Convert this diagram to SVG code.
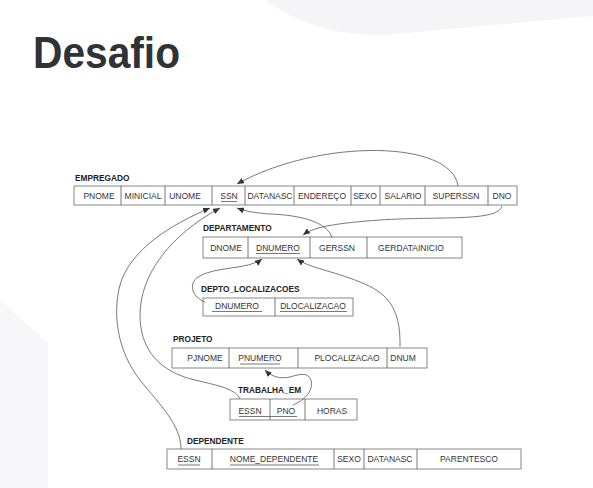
<svg xmlns="http://www.w3.org/2000/svg" width="593" height="488" viewBox="0 0 593 488">
<style>
.cell{fill:#fff;stroke:#6a6a6a;stroke-width:0.8}
.t{font-family:"Liberation Sans",Arial,sans-serif;font-size:8.5px;fill:#333;text-anchor:middle}
.lbl{font-family:"Liberation Sans",Arial,sans-serif;font-size:8.3px;font-weight:bold;fill:#222}
.ul{stroke:#555;stroke-width:0.8}
.c{fill:none;stroke:#555;stroke-width:0.8}
</style>
<defs>
<marker id="ah" markerUnits="userSpaceOnUse" markerWidth="8" markerHeight="6" refX="7" refY="3" orient="auto">
<path d="M0,0 L7,3 L0,6 Z" fill="#333"/>
</marker>
</defs>
<rect width="593" height="488" fill="#fff"/>
<path d="M265,0 C300,24 335,36 385,35 L593,16 L593,0 Z" fill="#f5f5f7"/>
<path d="M0,300 L48,343 L48,488 L0,488 Z" fill="#f7f7f9"/>
<text x="33" y="68" font-family="'Liberation Sans',Arial,sans-serif" font-size="44" font-weight="bold" fill="#2f3337" textLength="147" lengthAdjust="spacingAndGlyphs">Desafio</text>

<g id="empregado">
<text class="lbl" x="75" y="181">EMPREGADO</text>
<rect class="cell" x="74" y="186" width="443" height="19"/>
<path class="ul" d="M121,186V205M165,186V205M212,186V205M245,186V205M294,186V205M351,186V205M380,186V205M425,186V205M488,186V205"/>
<text class="t" x="99" y="199">PNOME</text>
<text class="t" x="143" y="199">MINICIAL</text>
<text class="t" x="185" y="199">UNOME</text>
<text class="t" x="229" y="199">SSN</text>
<text class="t" x="270" y="199">DATANASC</text>
<text class="t" x="322" y="199">ENDEREÇO</text>
<text class="t" x="365" y="199">SEXO</text>
<text class="t" x="403" y="199">SALARIO</text>
<text class="t" x="456" y="199">SUPERSSN</text>
<text class="t" x="502" y="199">DNO</text>
<line class="ul" x1="221" y1="201.5" x2="237" y2="201.5"/>
</g>

<g id="departamento">
<text class="lbl" x="203" y="231">DEPARTAMENTO</text>
<rect class="cell" x="203" y="237" width="259" height="21"/>
<path class="ul" d="M248,237V258M310,237V258M367,237V258"/>
<text class="t" x="226" y="251">DNOME</text>
<text class="t" x="278" y="251">DNUMERO</text>
<text class="t" x="337" y="251">GERSSN</text>
<text class="t" x="411" y="251">GERDATAINICIO</text>
<line class="ul" x1="256" y1="253.5" x2="300" y2="253.5"/>
</g>

<g id="depto_localizacoes">
<text class="lbl" x="201" y="291.5">DEPTO_LOCALIZACOES</text>
<rect class="cell" x="203" y="298" width="150" height="18"/>
<path class="ul" d="M275,298V316"/>
<text class="t" x="237" y="309">DNUMERO</text>
<text class="t" x="313" y="309">DLOCALIZACAO</text>
<line class="ul" x1="212" y1="311.5" x2="262" y2="311.5"/>
<line class="ul" x1="280" y1="311.5" x2="347" y2="311.5"/>
</g>

<g id="projeto">
<text class="lbl" x="173" y="342">PROJETO</text>
<rect class="cell" x="172" y="348" width="255" height="20"/>
<path class="ul" d="M229,348V368M298,348V368M387,348V368"/>
<text class="t" x="205" y="361">PJNOME</text>
<text class="t" x="260" y="361">PNUMERO</text>
<text class="t" x="347" y="361">PLOCALIZACAO</text>
<text class="t" x="403" y="361">DNUM</text>
<line class="ul" x1="240" y1="364" x2="280" y2="364"/>
</g>

<g id="trabalha_em">
<text class="lbl" x="238" y="393">TRABALHA_EM</text>
<rect class="cell" x="230" y="399" width="127" height="21"/>
<path class="ul" d="M270,399V420M305,399V420"/>
<text class="t" x="250" y="414">ESSN</text>
<text class="t" x="286" y="414">PNO</text>
<text class="t" x="332" y="414">HORAS</text>
<line class="ul" x1="239" y1="416.5" x2="297" y2="416.5"/>
</g>

<g id="dependente">
<text class="lbl" x="187" y="444">DEPENDENTE</text>
<rect class="cell" x="167" y="449" width="354" height="20"/>
<path class="ul" d="M212,449V469M334,449V469M364,449V469M417,449V469"/>
<text class="t" x="189" y="462">ESSN</text>
<text class="t" x="274" y="462">NOME_DEPENDENTE</text>
<text class="t" x="349" y="462">SEXO</text>
<text class="t" x="390" y="462">DATANASC</text>
<text class="t" x="469" y="462">PARENTESCO</text>
<line class="ul" x1="178" y1="465" x2="200" y2="465"/>
<line class="ul" x1="230" y1="465" x2="319" y2="465"/>
</g>

<g id="connectors">
<path class="c" marker-end="url(#ah)" d="M458,186 C452,140 320,138 237,184"/>
<path class="c" marker-end="url(#ah)" d="M502,206 C498,222 440,216 380,220 C340,223 315,226 303,235"/>
<path class="c" marker-end="url(#ah)" d="M332,238 C328,222 300,215 270,214 C255,213 245,211 237,208"/>
<path class="c" marker-end="url(#ah)" d="M181,449 C181,425 160,405 140,380 C118,352 112,315 120,285 C130,250 170,225 210,208"/>
<path class="c" marker-end="url(#ah)" d="M240,399 C235,388 215,385 195,380 C160,372 140,350 140,315 C140,275 170,235 220,208"/>
<path class="c" marker-end="url(#ah)" d="M205,302 C192,297 188,284 198,277 C215,266 248,270 262,259"/>
<path class="c" marker-end="url(#ah)" d="M400,347 C401,305 385,292 360,282 C330,270 310,268 297,259"/>
<path class="c" marker-end="url(#ah)" d="M293,405 C305,400 314,390 311,380 C308,372 300,374 290,377 C280,379 272,377 265,370"/>
</g>
</svg>
